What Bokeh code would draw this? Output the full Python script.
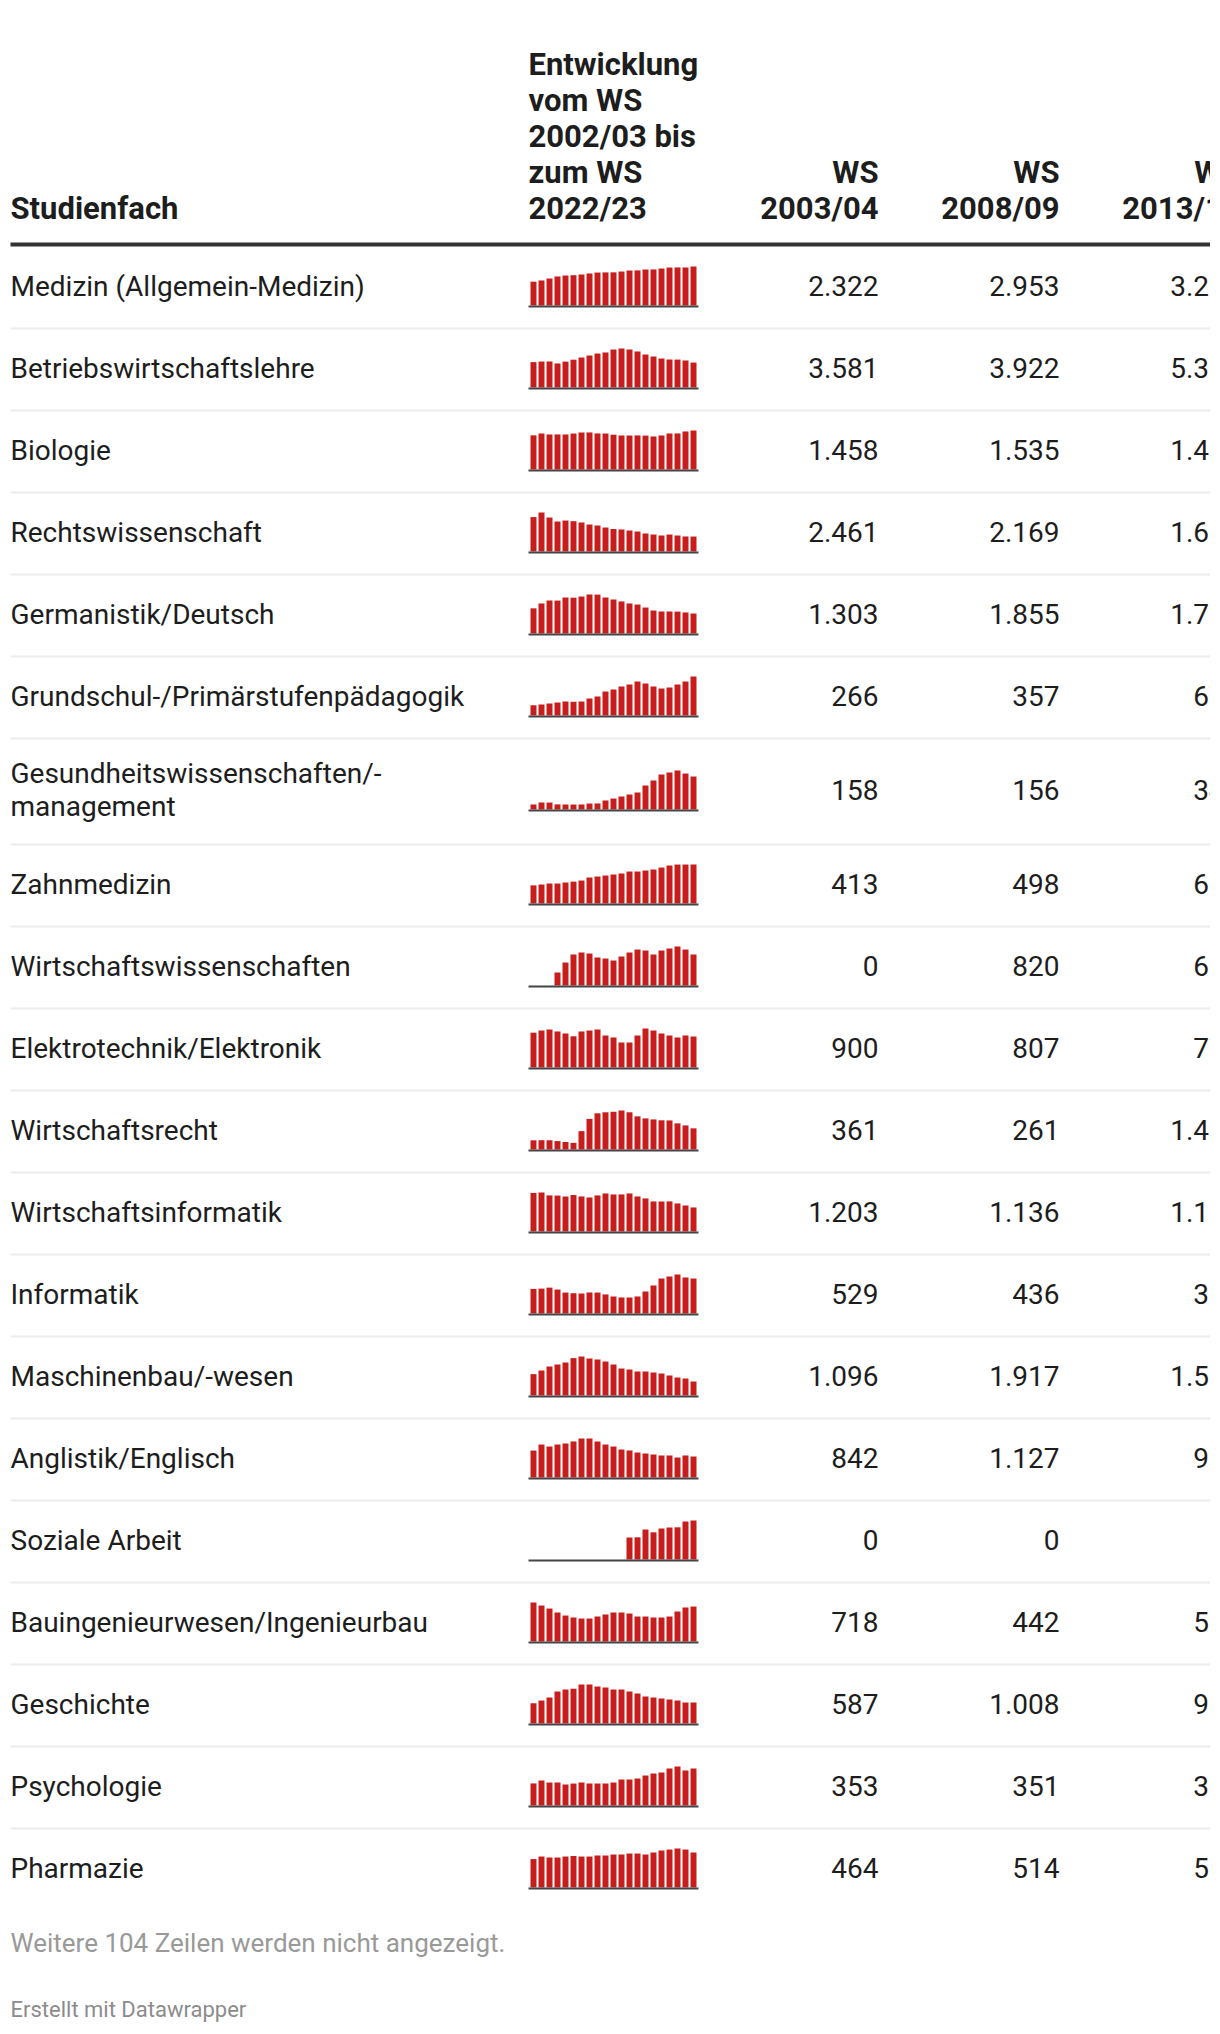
from bokeh.plotting import figure
from bokeh.models import Range1d
from bokeh.embed import file_html
from bokeh.resources import INLINE
from bokeh.core.properties import value

# ---------------- data ----------------
faecher = [
    "Medizin (Allgemein-Medizin)", "Betriebswirtschaftslehre", "Biologie",
    "Rechtswissenschaft", "Germanistik/Deutsch", "Grundschul-/Primärstufenpädagogik",
    "Gesundheitswissenschaften/-\nmanagement", "Zahnmedizin", "Wirtschaftswissenschaften",
    "Elektrotechnik/Elektronik", "Wirtschaftsrecht", "Wirtschaftsinformatik", "Informatik",
    "Maschinenbau/-wesen", "Anglistik/Englisch", "Soziale Arbeit",
    "Bauingenieurwesen/Ingenieurbau", "Geschichte", "Psychologie", "Pharmazie",
]

spalten = ["WS\n2003/04", "WS\n2008/09", "WS\n2013/14"]
kopf_fach = "Studienfach"
kopf_verlauf = "Entwicklung\nvom WS\n2002/03 bis\nzum WS\n2022/23"

ws_2003_04 = [2322, 3581, 1458, 2461, 1303, 266, 158, 413, 0, 900, 361, 1203, 529, 1096, 842, 0, 718, 587, 353, 464]
ws_2008_09 = [2953, 3922, 1535, 2169, 1855, 357, 156, 498, 820, 807, 261, 1136, 436, 1917, 1127, 0, 442, 1008, 351, 514]
ws_2013_14 = [3231, 5358, 1486, 1610, 1761, 676, 345, 660, 661, 776, 1480, 1154, 365, 1590, 969, 0, 534, 985, 368, 538]

verlauf_medizin = [2322, 2440, 2630, 2830, 2920, 2953, 3020, 3120, 3210, 3225, 3231, 3310, 3410, 3420, 3505, 3515, 3600, 3700, 3710, 3705, 3800]
verlauf_bwl = [3581, 3660, 3670, 3390, 3650, 3922, 4230, 4510, 4790, 4940, 5358, 5500, 5360, 5080, 4650, 4370, 4090, 3950, 3940, 3810, 3520]
verlauf_biologie = [1458, 1537, 1495, 1497, 1494, 1535, 1580, 1582, 1540, 1536, 1486, 1452, 1450, 1455, 1448, 1410, 1452, 1537, 1540, 1623, 1665]
verlauf_rechtswiss = [2461, 2790, 2430, 2145, 2215, 2169, 2075, 1930, 1860, 1715, 1610, 1575, 1500, 1430, 1290, 1215, 1145, 1215, 1145, 1075, 1070]
verlauf_germanistik = [1303, 1555, 1710, 1705, 1865, 1855, 1915, 2020, 2015, 1865, 1761, 1660, 1555, 1500, 1345, 1190, 1140, 1140, 1135, 1090, 1035]
verlauf_grundschul = [266, 286, 312, 338, 364, 357, 364, 442, 494, 624, 676, 754, 806, 884, 832, 754, 702, 728, 806, 884, 1014]
verlauf_gesundheit = [158, 220, 218, 160, 157, 156, 158, 188, 190, 283, 345, 408, 471, 534, 754, 911, 1099, 1162, 1225, 1130, 1036]
verlauf_zahnmedizin = [413, 432, 455, 455, 478, 498, 523, 592, 614, 637, 660, 683, 728, 728, 751, 774, 819, 865, 887, 887, 888]
verlauf_wiwi = [0, 0, 0, 344, 608, 820, 873, 846, 741, 714, 661, 767, 873, 952, 926, 820, 926, 979, 1032, 952, 820]
verlauf_elektro = [900, 956, 982, 931, 879, 807, 931, 956, 982, 827, 776, 646, 646, 827, 1008, 956, 879, 827, 776, 827, 801]
verlauf_wirtschaftsrecht = [361, 365, 362, 330, 295, 261, 720, 1200, 1420, 1460, 1480, 1530, 1460, 1300, 1220, 1180, 1145, 1140, 1025, 945, 830]
verlauf_wirtschaftsinf = [1203, 1215, 1125, 1120, 1090, 1136, 1092, 1060, 1123, 1185, 1154, 1155, 1185, 1092, 1030, 936, 935, 938, 874, 811, 749]
verlauf_informatik = [529, 535, 556, 515, 450, 436, 430, 452, 450, 410, 365, 345, 344, 366, 473, 602, 752, 795, 838, 774, 752]
verlauf_maschinenbau = [1096, 1283, 1488, 1590, 1693, 1917, 2001, 1898, 1847, 1744, 1590, 1385, 1334, 1231, 1231, 1180, 1129, 1026, 923, 872, 718]
verlauf_anglistik = [842, 1031, 969, 1031, 1063, 1127, 1219, 1219, 1125, 1031, 969, 875, 844, 781, 750, 719, 688, 688, 625, 688, 656]
verlauf_soziale_arbeit = [0, 0, 0, 0, 0, 0, 0, 0, 0, 0, 0, 0, 550, 555, 750, 680, 775, 800, 805, 950, 975]
verlauf_bauing = [718, 662, 607, 534, 478, 442, 423, 423, 460, 497, 534, 534, 515, 460, 460, 442, 442, 460, 552, 626, 644]
verlauf_geschichte = [587, 667, 754, 928, 986, 1008, 1131, 1131, 1073, 1044, 985, 986, 928, 870, 783, 754, 725, 696, 667, 609, 609]
verlauf_psychologie = [353, 400, 368, 368, 336, 351, 368, 352, 352, 352, 368, 416, 416, 432, 480, 512, 528, 592, 624, 560, 592]
verlauf_pharmazie = [464, 505, 489, 489, 505, 514, 505, 505, 522, 522, 538, 538, 554, 554, 538, 571, 603, 619, 636, 619, 571]

verlaeufe = [
    verlauf_medizin, verlauf_bwl, verlauf_biologie, verlauf_rechtswiss, verlauf_germanistik,
    verlauf_grundschul, verlauf_gesundheit, verlauf_zahnmedizin, verlauf_wiwi, verlauf_elektro,
    verlauf_wirtschaftsrecht, verlauf_wirtschaftsinf, verlauf_informatik, verlauf_maschinenbau,
    verlauf_anglistik, verlauf_soziale_arbeit, verlauf_bauing, verlauf_geschichte,
    verlauf_psychologie, verlauf_pharmazie,
]

hinweis = "Weitere 104 Zeilen werden nicht angezeigt."
quelle = "Erstellt mit Datawrapper"

# ---------------- layout ----------------
W, H = 1210, 2030
FONT = value("Roboto")
TXT = "#1d1d1d"

p = figure(width=W, height=H, output_backend="svg", toolbar_location=None,
           x_range=Range1d(0, W), y_range=Range1d(H, 0),
           min_border=0, outline_line_color=None)
p.axis.visible = False
p.grid.visible = False
p.background_fill_color = "white"
p.border_fill_color = "white"

def fmt(v):
    return f"{v:,}".replace(",", ".")

def bl(y, size):
    # desired alphabetic baseline -> position given to bokeh
    return y - 0.37 * size

LEFT = 10
RIGHT = 1260
COLS_R = [878, 1059, 1240]
SPARK_X0 = 530
SPARK_STEP = 8
SPARK_W = 6
BAR_MAX = 39
HS = 31
BS = 28

# header
head_base = 219
head_lh = 36
p.text(x=[LEFT], y=[bl(head_base, HS)], text=[kopf_fach], text_font=FONT, text_font_size=f"{HS}px",
       text_font_style="bold", text_color=TXT, text_align="left", text_baseline="alphabetic")
hl = kopf_verlauf.split("\n")
p.text(x=[528] * len(hl), y=[bl(head_base - (len(hl) - 1 - k) * head_lh, HS) for k in range(len(hl))],
       text=hl, text_font=FONT, text_font_size=f"{HS}px", text_font_style="bold",
       text_color=TXT, text_align="left", text_baseline="alphabetic")
for cx, lab in zip(COLS_R, spalten):
    ll = lab.split("\n")
    p.text(x=[cx] * len(ll), y=[bl(head_base - (len(ll) - 1 - k) * head_lh, HS) for k in range(len(ll))],
           text=ll, text_font=FONT, text_font_size=f"{HS}px", text_font_style="bold",
           text_color=TXT, text_align="right", text_baseline="alphabetic")
p.segment(x0=[LEFT], y0=[244], x1=[RIGHT], y1=[244], line_color="#333333", line_width=4)

# rows
top = 245
lx, ly, lt = [], [], []
nx, ny, nt = [], [], []
qx0, qx1, qt, qb = [], [], [], []
bl_y, sep_y = [], []
for i, fach in enumerate(faecher):
    lines = fach.split("\n")
    h = 82 + (len(lines) - 1) * 24
    c = top + h / 2
    for k, ln in enumerate(lines):
        lx.append(LEFT)
        ly.append(bl(c + 10 + (k - (len(lines) - 1) / 2) * 32.5, BS))
        lt.append(ln)
    for cx, col in zip(COLS_R, (ws_2003_04, ws_2008_09, ws_2013_14)):
        nx.append(cx); ny.append(bl(c + 10, BS)); nt.append(fmt(col[i]))
    vals = verlaeufe[i]
    vmax = max(vals)
    base = c + 19
    for j, v in enumerate(vals):
        if v <= 0:
            continue
        qx0.append(SPARK_X0 + j * SPARK_STEP)
        qx1.append(SPARK_X0 + j * SPARK_STEP + SPARK_W)
        qb.append(base)
        qt.append(base - BAR_MAX * v / vmax)
    bl_y.append(base + 1)
    top += h
    if i < len(faecher) - 1:
        sep_y.append(top + 1)

p.segment(x0=[LEFT] * len(sep_y), y0=sep_y, x1=[RIGHT] * len(sep_y), y1=sep_y,
          line_color="#ececec", line_width=2)
p.quad(left=qx0, right=qx1, top=qt, bottom=qb, fill_color="#c71e1d", line_color=None)
p.segment(x0=[528] * len(bl_y), y0=bl_y, x1=[698] * len(bl_y), y1=bl_y,
          line_color="#454545", line_width=2)
p.text(x=lx, y=ly, text=lt, text_font=FONT, text_font_size=f"{BS}px", text_color=TXT,
       text_align="left", text_baseline="alphabetic")
p.text(x=nx, y=ny, text=nt, text_font=FONT, text_font_size=f"{BS}px", text_color=TXT,
       text_align="right", text_baseline="alphabetic")

# footer
p.text(x=[LEFT], y=[bl(1952.5, 26)], text=[hinweis], text_font=FONT, text_font_size="26px",
       text_color="#999999", text_align="left", text_baseline="alphabetic")
p.text(x=[LEFT], y=[bl(2017.5, 22)], text=[quelle], text_font=FONT, text_font_size="22px",
       text_color="#8c8c8c", text_align="left", text_baseline="alphabetic")

open("out.html", "w").write(file_html(p, INLINE))
